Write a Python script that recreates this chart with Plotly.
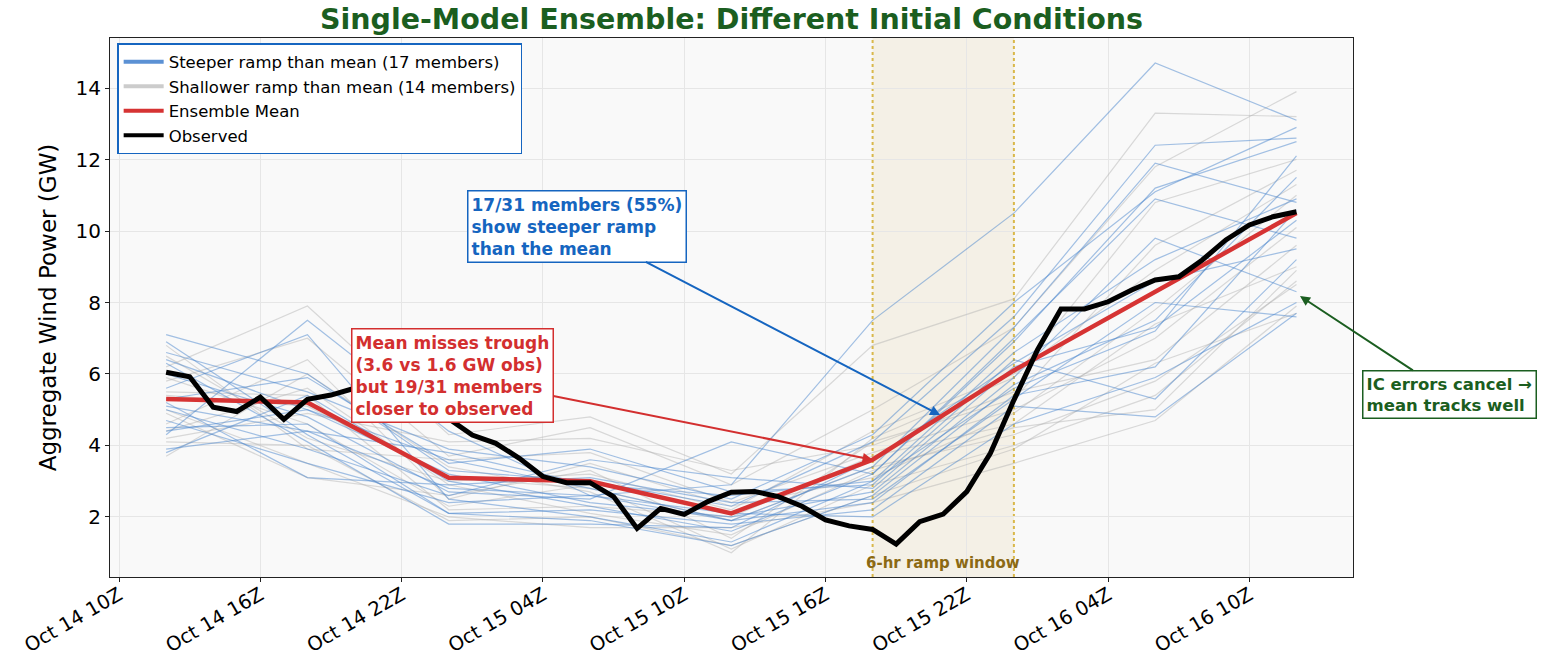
import pandas as pd
import plotly.graph_objects as go

# ---------------- data ----------------
member_times = pd.date_range("2024-10-14 12:00", periods=9, freq="6h")
obs_times = pd.date_range("2024-10-14 12:00", periods=49, freq="1h")

steeper_members = [
    [5.1, 4.4, 2.8, 2.6, 2.9, 7.5, 10.5, 14.7, 13.1],
    [7.1, 6.0, 3.3, 3.0, 2.3, 4.1, 7.6, 12.4, 12.6],
    [4.3, 7.5, 4.4, 2.6, 1.9, 3.4, 7.3, 11.9, 10.8],
    [6.6, 5.5, 3.9, 3.4, 2.5, 4.3, 8.0, 11.1, 12.9],
    [3.8, 5.4, 3.0, 2.3, 1.6, 3.2, 6.9, 11.2, 12.5],
    [5.6, 7.1, 2.5, 2.0, 1.3, 3.0, 6.6, 9.2, 10.9],
    [4.5, 4.6, 2.1, 1.9, 1.2, 2.6, 5.7, 7.5, 11.5],
    [5.0, 3.9, 2.6, 3.6, 3.1, 2.8, 6.2, 7.3, 10.3],
    [6.3, 4.1, 1.8, 1.8, 1.7, 3.6, 6.3, 8.6, 9.5],
    [4.4, 5.0, 3.6, 2.8, 1.9, 2.4, 5.4, 6.2, 10.6],
    [6.9, 4.3, 2.1, 2.2, 1.8, 2.2, 5.1, 4.8, 7.7],
    [5.3, 5.9, 3.5, 3.9, 2.7, 2.9, 6.4, 5.3, 9.2],
    [4.7, 3.5, 2.4, 2.6, 2.1, 2.0, 4.6, 5.9, 8.0],
    [6.0, 4.8, 2.7, 2.5, 4.1, 3.2, 7.0, 10.9, 9.8],
    [5.2, 3.1, 2.9, 3.1, 2.4, 2.5, 5.3, 8.0, 7.6],
    [3.9, 4.4, 3.8, 2.9, 2.6, 3.0, 5.6, 7.2, 12.1],
    [6.4, 5.0, 3.2, 2.4, 2.0, 2.7, 5.9, 9.8, 8.3],
]
shallower_members = [
    [6.2, 7.9, 4.3, 4.8, 3.2, 6.8, 8.1, 13.3, 13.2],
    [5.8, 7.0, 3.7, 4.5, 2.9, 5.0, 7.3, 11.8, 13.9],
    [4.9, 3.1, 2.6, 3.3, 1.4, 4.1, 5.3, 9.6, 11.7],
    [3.7, 6.0, 3.4, 2.7, 1.0, 4.2, 5.9, 10.8, 12.0],
    [5.5, 5.4, 2.2, 2.3, 2.0, 3.7, 4.6, 7.4, 9.0],
    [6.5, 4.2, 3.0, 3.2, 2.2, 4.4, 6.0, 8.9, 11.3],
    [4.4, 5.6, 2.9, 2.1, 1.5, 3.3, 4.5, 5.0, 8.9],
    [5.9, 4.6, 2.3, 2.9, 1.1, 2.9, 4.0, 5.4, 8.6],
    [6.8, 3.9, 3.6, 3.8, 2.4, 3.8, 5.0, 7.0, 10.1],
    [4.2, 4.9, 4.1, 4.2, 3.3, 4.0, 5.5, 6.4, 9.6],
    [5.0, 3.5, 2.0, 1.7, 1.7, 2.4, 3.5, 4.7, 7.9],
    [5.4, 5.1, 3.1, 2.8, 1.9, 3.4, 4.3, 5.8, 8.5],
    [4.1, 4.0, 1.9, 2.0, 1.2, 2.6, 3.9, 6.3, 7.7],
    [4.6, 6.4, 2.5, 3.5, 2.3, 3.1, 4.9, 7.8, 11.0],
]
ensemble_mean = [5.3, 5.2, 3.1, 3.0, 2.1, 3.6, 6.1, 8.3, 10.5]
observed = [
    6.05, 5.92, 5.07, 4.95, 5.35, 4.73, 5.29, 5.41, 5.60, 5.75, 5.50, 5.10,
    4.75, 4.29, 4.06, 3.64, 3.13, 2.96, 2.96, 2.57, 1.68, 2.24, 2.07, 2.43,
    2.69, 2.71, 2.57, 2.30, 1.92, 1.75, 1.65, 1.24, 1.87, 2.08, 2.71, 3.78,
    5.27, 6.67, 7.82, 7.82, 8.02, 8.35, 8.63, 8.72, 9.19, 9.75, 10.17, 10.40,
    10.54,
]
tick_times = pd.date_range("2024-10-14 10:00", periods=9, freq="6h")
tick_labels = ["Oct 14 10Z", "Oct 14 16Z", "Oct 14 22Z", "Oct 15 04Z", "Oct 15 10Z",
               "Oct 15 16Z", "Oct 15 22Z", "Oct 16 04Z", "Oct 16 10Z"]
window_start = pd.Timestamp("2024-10-15 18:00")
window_end = pd.Timestamp("2024-10-16 00:00")
x_range = [pd.Timestamp("2024-10-14 09:37"), pd.Timestamp("2024-10-16 14:24")]

FONT = "DejaVu Sans"
BLUE = "rgba(74,134,205,0.5)"
GRAY = "rgba(175,175,175,0.45)"

fig = go.Figure()

for m in shallower_members:
    fig.add_trace(go.Scatter(x=member_times, y=m, mode="lines",
                             line=dict(color=GRAY, width=1.2), showlegend=False,
                             hoverinfo="skip"))
for m in steeper_members:
    fig.add_trace(go.Scatter(x=member_times, y=m, mode="lines",
                             line=dict(color=BLUE, width=1.2), showlegend=False,
                             hoverinfo="skip"))

fig.add_trace(go.Scatter(x=member_times, y=ensemble_mean, mode="lines",
                         line=dict(color="#d63333", width=4.5), showlegend=False))
fig.add_trace(go.Scatter(x=obs_times, y=observed, mode="lines",
                         line=dict(color="black", width=5), showlegend=False))

# legend-only entries
fig.add_trace(go.Scatter(x=[None], y=[None], mode="lines",
                         line=dict(color="#5b91d4", width=4),
                         name=f"Steeper ramp than mean ({len(steeper_members)} members)"))
fig.add_trace(go.Scatter(x=[None], y=[None], mode="lines",
                         line=dict(color="#cccccc", width=4),
                         name=f"Shallower ramp than mean ({len(shallower_members)} members)"))
fig.add_trace(go.Scatter(x=[None], y=[None], mode="lines",
                         line=dict(color="#d63333", width=4), name="Ensemble Mean"))
fig.add_trace(go.Scatter(x=[None], y=[None], mode="lines",
                         line=dict(color="black", width=4), name="Observed"))

# ramp window
fig.add_shape(type="rect", xref="x", yref="paper", x0=window_start, x1=window_end,
              y0=0, y1=1, fillcolor="rgba(215,195,130,0.16)", line=dict(width=0),
              layer="below")
for t in [window_start, window_end]:
    fig.add_shape(type="line", xref="x", yref="paper", x0=t, x1=t, y0=0, y1=1,
                  line=dict(color="#d9b84a", width=2, dash="dot"), layer="below")

fig.add_annotation(x=window_start + (window_end - window_start) / 2, y=0,
                   xref="x", yref="paper", yanchor="bottom", yshift=3,
                   text="<b>6-hr ramp window</b>", showarrow=False,
                   font=dict(family=FONT, size=15, color="#8b6914"))

# annotations
fig.add_annotation(x=pd.Timestamp("2024-10-15 20:52"), y=4.85, xref="x", yref="y",
                   ax=-363, ay=-189,
                   text="<b>17/31 members (55%)<br>show steeper ramp<br>than the mean</b>",
                   align="left", showarrow=True, arrowhead=2, arrowsize=1,
                   arrowwidth=2, arrowcolor="#1565c0",
                   font=dict(family=FONT, size=17, color="#1565c0"),
                   bgcolor="white", bordercolor="#1565c0", borderwidth=1.5, borderpad=3)
fig.add_annotation(x=member_times[5], y=ensemble_mean[5], xref="x", yref="y",
                   ax=-420, ay=-84,
                   text="<b>Mean misses trough<br>(3.6 vs 1.6 GW obs)<br>but 19/31 members<br>closer to observed</b>",
                   align="left", showarrow=True, arrowhead=2, arrowsize=1,
                   arrowwidth=2, arrowcolor="#d32f2f",
                   font=dict(family=FONT, size=17, color="#d32f2f"),
                   bgcolor="white", bordercolor="#d32f2f", borderwidth=1.5, borderpad=3)
fig.add_annotation(x=pd.Timestamp("2024-10-16 12:09"), y=8.18, xref="x", yref="y",
                   ax=149, ay=98,
                   text="<b>IC errors cancel →<br>mean tracks well</b>",
                   align="left", showarrow=True, arrowhead=2, arrowsize=1,
                   arrowwidth=2, arrowcolor="#1b5e20",
                   font=dict(family=FONT, size=16.5, color="#1b5e20"),
                   bgcolor="white", bordercolor="#1b5e20", borderwidth=1.5, borderpad=3)

fig.update_layout(
    width=1542, height=659,
    margin=dict(l=110, r=189, t=38, b=82),
    paper_bgcolor="white", plot_bgcolor="#f9f9f9",
    font=dict(family=FONT, size=16, color="black"),
    title=dict(text="<b>Single-Model Ensemble: Different Initial Conditions</b>",
               xref="paper", x=0.5, xanchor="center",
               yref="container", y=1 - 19 / 659, yanchor="middle",
               font=dict(family=FONT, size=28.5, color="#1b5e20")),
    legend=dict(x=0.006, y=0.99, xanchor="left", yanchor="top",
                bgcolor="white", bordercolor="#1565c0", borderwidth=1.2,
                font=dict(family=FONT, size=16.5), tracegroupgap=0, itemwidth=40),
    showlegend=True,
)
fig.update_xaxes(range=x_range, tickvals=tick_times, ticktext=tick_labels,
                 tickangle=-30, showgrid=True, gridcolor="#e6e6e6", gridwidth=1,
                 showline=True, linecolor="#222", linewidth=1.2, mirror=True,
                 ticks="outside", ticklen=4, tickcolor="#222", zeroline=False,
                 tickfont=dict(family=FONT, size=19.5), automargin=False,
                 ticklabelstandoff=-6)
fig.update_yaxes(range=[0.32, 15.4], tickvals=[2, 4, 6, 8, 10, 12, 14],
                 showgrid=True, gridcolor="#e6e6e6", gridwidth=1,
                 showline=True, linecolor="#222", linewidth=1.2, mirror=True,
                 ticks="outside", ticklen=4, tickcolor="#222", zeroline=False,
                 tickfont=dict(family=FONT, size=20), automargin=False,
                 title=dict(text="Aggregate Wind Power (GW)", font=dict(family=FONT, size=23),
                            standoff=12))

# remove the browser's default 8px body margin so the figure fills the window
fig.write_html("out.html", config={"displayModeBar": False},
               post_script="document.body.style.margin='0';")
